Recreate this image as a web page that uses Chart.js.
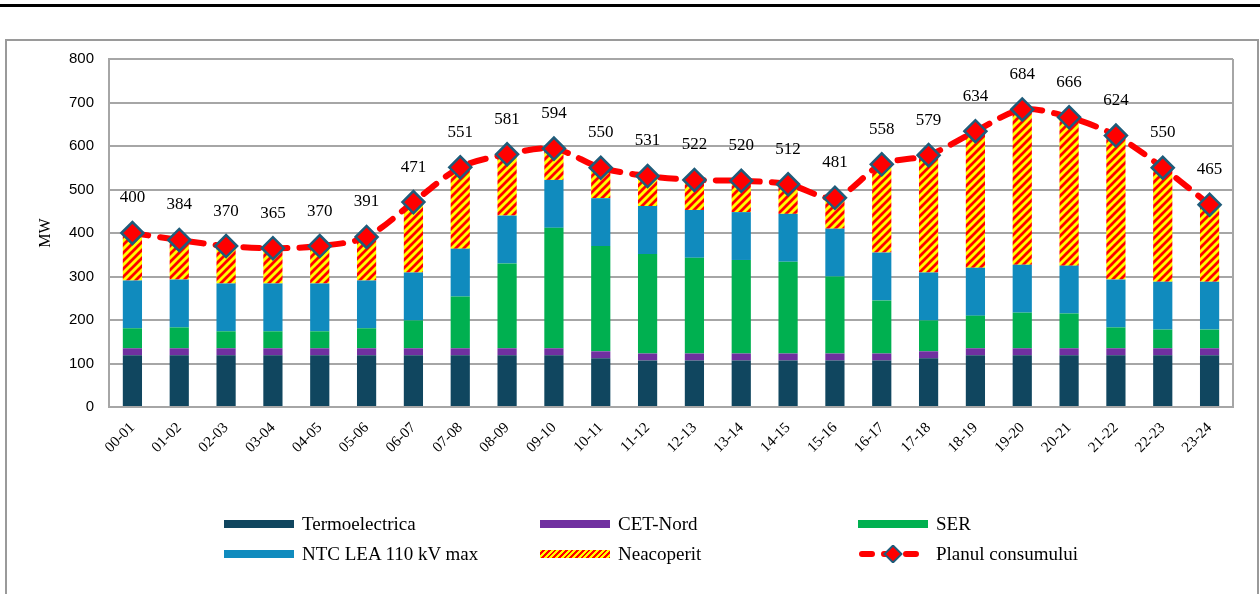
<!DOCTYPE html>
<html>
<head>
<meta charset="utf-8">
<script src="https://cdn.jsdelivr.net/npm/chart.js@4"></script>
<style>
  body { margin: 0; background: #fff; width: 1260px; height: 594px; overflow: hidden; position: relative; }
  .topline { position: absolute; left: 0; top: 4px; width: 1260px; height: 3px; background: #000; }
  .frame { position: absolute; left: 5px; top: 39px; width: 1250px; height: 600px; border: 2px solid #9a9a9a; }
  #chartWrap { position: absolute; left: 0; top: 0; width: 1260px; height: 594px; }
  .legend-item { position: absolute; font-family: "Liberation Serif", "Times New Roman", serif; font-size: 19px; color: #000; line-height: 20px; }
  .legend-item .sym { position: absolute; left: 0; top: 6px; width: 70px; height: 8px; }
  .legend-item span.txt { position: absolute; left: 78px; top: 0; white-space: nowrap; }
</style>
</head>
<body>
<div class="topline"></div>
<div class="frame"></div>
<div id="chartWrap"><canvas id="planChart" width="1260" height="594"></canvas></div>
<div id="legend"></div>

<script>
// --- data ---
const hours = ['00-01','01-02','02-03','03-04','04-05','05-06','06-07','07-08','08-09','09-10','10-11','11-12',
               '12-13','13-14','14-15','15-16','16-17','17-18','18-19','19-20','20-21','21-22','22-23','23-24'];
const termoelectrica = [119,119,119,119,119,119,119,119,119,119,112,107,107,107,107,107,107,112,119,119,119,119,119,119];
const cetNord        = [16,16,16,16,16,16,16,16,16,16,16,16,16,16,16,16,16,16,16,16,16,16,16,16];
const ser            = [46,48,39,39,39,46,64,119,195,277,242,229,220,215,211,177,122,71,75,82,80,48,43,43];
const ntcLea         = [110,110,110,110,110,110,110,110,110,110,110,110,110,110,110,110,110,110,110,110,110,110,110,110];
const neacoperit     = [109,91,86,81,86,100,162,187,141,72,70,69,69,72,68,71,203,270,314,357,341,331,262,177];
const planConsum     = [400,384,370,365,370,391,471,551,581,594,550,531,522,520,512,481,558,579,634,684,666,624,550,465];
const yTicks = [0,100,200,300,400,500,600,700,800];

// hatched red/yellow fill
function makeHatch() {
    const c = document.createElement('canvas');
    c.width = 8; c.height = 8;
    const g = c.getContext('2d');
    g.fillStyle = '#FFFF00';
    g.fillRect(0, 0, 8, 8);
    g.strokeStyle = '#FF0000';
    g.lineWidth = 2.8;
    g.beginPath();
    g.moveTo(-2, 2); g.lineTo(2, -2);
    g.moveTo(0, 8); g.lineTo(8, 0);
    g.moveTo(6, 10); g.lineTo(10, 6);
    g.stroke();
    return g.createPattern(c, 'repeat');
}

document.addEventListener('DOMContentLoaded', function() {

    const ctx = document.getElementById('planChart').getContext('2d');
    const hatch = makeHatch();

    // value labels above the diamonds + right border of the plot
    const extras = {
        id: 'extras',
        beforeDatasetsDraw(chart) {
            const a = chart.chartArea;
            const c = chart.ctx;
            c.save();
            c.strokeStyle = '#A6A6A6';
            c.lineWidth = 2;
            c.beginPath();
            c.moveTo(a.right, a.top);
            c.lineTo(a.right, a.bottom);
            c.stroke();
            c.restore();
        },
        afterDatasetsDraw(chart) {
            const c = chart.ctx;
            const meta = chart.getDatasetMeta(5);
            c.save();
            c.font = '17px "Liberation Serif", "Times New Roman", serif';
            c.fillStyle = '#000';
            c.textAlign = 'center';
            c.textBaseline = 'middle';
            meta.data.forEach((pt, i) => {
                c.fillText(planConsum[i], pt.x, pt.y - 35);
            });
            c.restore();
        }
    };

    const barBase = { type: 'bar', stack: 'surse', order: 1, barPercentage: 0.41, categoryPercentage: 1, borderWidth: 0 };

    new Chart(ctx, {
        data: {
            labels: hours,
            datasets: [
                Object.assign({ label: 'Termoelectrica', data: termoelectrica, backgroundColor: '#10465F' }, barBase),
                Object.assign({ label: 'CET-Nord', data: cetNord, backgroundColor: '#7030A0' }, barBase),
                Object.assign({ label: 'SER', data: ser, backgroundColor: '#00B050' }, barBase),
                Object.assign({ label: 'NTC LEA 110 kV max', data: ntcLea, backgroundColor: '#108BBE' }, barBase),
                Object.assign({ label: 'Neacoperit', data: neacoperit, backgroundColor: hatch }, barBase),
                {
                    type: 'line',
                    label: 'Planul consumului',
                    data: planConsum,
                    stack: 'plan',
                    order: 0,
                    borderColor: '#FF0000',
                    borderWidth: 6,
                    borderDash: [16, 12],
                    borderCapStyle: 'round',
                    tension: 0.3,
                    fill: false,
                    pointStyle: 'rectRot',
                    pointRadius: 11,
                    pointBackgroundColor: '#FF0000',
                    pointBorderColor: '#1F5C7A',
                    pointBorderWidth: 2.5
                }
            ]
        },
        options: {
            responsive: false,
            animation: false,
            layout: { padding: { top: 59, right: 27, left: 0, bottom: 0 } },
            plugins: {
                legend: { display: false },
                tooltip: { enabled: false }
            },
            scales: {
                x: {
                    stacked: true,
                    grid: { display: false },
                    border: { color: '#A6A6A6', width: 2 },
                    ticks: {
                        maxRotation: 45, minRotation: 45,
                        padding: 4,
                        color: '#000',
                        font: { family: '"Liberation Serif", "Times New Roman", serif', size: 15 }
                    },
                    afterFit(scale) { scale.height = 187; }
                },
                y: {
                    stacked: true,
                    min: 0, max: 800,
                    afterBuildTicks(scale) { scale.ticks = yTicks.map(v => ({ value: v })); },
                    grid: { color: '#A6A6A6', lineWidth: 2, drawTicks: false },
                    border: { color: '#A6A6A6', width: 2 },
                    ticks: {
                        padding: 15,
                        color: '#000',
                        font: { family: '"Liberation Sans", Arial, sans-serif', size: 15 }
                    },
                    title: {
                        display: true,
                        text: 'MW',
                        color: '#000',
                        padding: { top: 36, bottom: 0 },
                        font: { family: '"Liberation Serif", "Times New Roman", serif', size: 16, weight: 'normal' }
                    },
                    afterFit(scale) { scale.width = 109; }
                }
            }
        },
        plugins: [extras]
    });

    // --- legend (3 columns x 2 rows) ---
    const legendItems = [
        { text: 'Termoelectrica', x: 224, y: 514, sym: 'background:#10465F' },
        { text: 'CET-Nord', x: 540, y: 514, sym: 'background:#7030A0' },
        { text: 'SER', x: 858, y: 514, sym: 'background:#00B050' },
        { text: 'NTC LEA 110 kV max', x: 224, y: 544, sym: 'background:#108BBE' },
        { text: 'Neacoperit', x: 540, y: 544, sym: 'background:repeating-linear-gradient(135deg,#FFFF00 0 2px,#FF0000 2px 4px)' },
        { text: 'Planul consumului', x: 858, y: 544, line: true }
    ];
    const legendBox = document.getElementById('legend');
    legendItems.forEach(item => {
        let symHTML;
        if (item.line) {
            symHTML = `<svg class="sym" style="top:1px;height:18px" width="70" height="18">
                <line x1="4" y1="9" x2="66" y2="9" stroke="#FF0000" stroke-width="6" stroke-linecap="round" stroke-dasharray="10 12"/>
                <rect x="29" y="3" width="12" height="12" fill="#FF0000" stroke="#1F5C7A" stroke-width="2" transform="rotate(45 35 9)"/>
            </svg>`;
        } else {
            symHTML = `<div class="sym" style="${item.sym}"></div>`;
        }
        legendBox.innerHTML += `<div class="legend-item" style="left:${item.x}px;top:${item.y}px">${symHTML}<span class="txt">${item.text}</span></div>`;
    });
});
</script>
</body>
</html>
